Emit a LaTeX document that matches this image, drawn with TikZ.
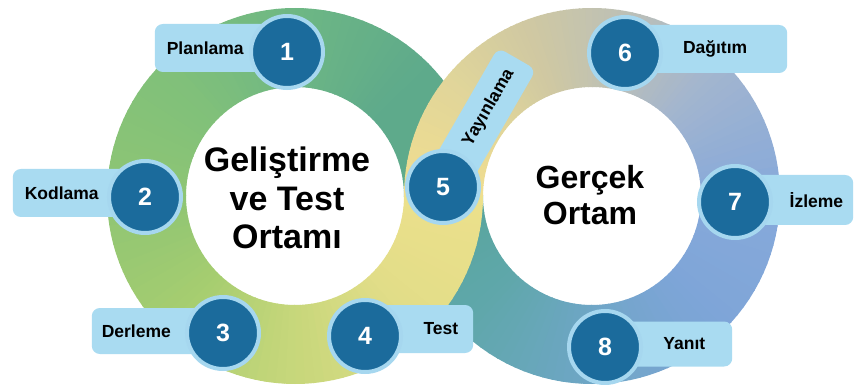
\documentclass[tikz,border=0pt]{standalone}
\usepackage{fontspec}
\setmainfont{Liberation Sans}
\usetikzlibrary{positioning}

% ring colours
\definecolor{lgYellow}{HTML}{ECE08C}
\definecolor{lgSand}{HTML}{E2DD88}
\definecolor{lgLime}{HTML}{C7D77B}
\definecolor{lgGreen}{HTML}{A6CD70}
\definecolor{lgLeaf}{HTML}{8EC574}
\definecolor{lgMoss}{HTML}{80C07A}
\definecolor{lgSea}{HTML}{6EB784}
\definecolor{lgTeal}{HTML}{5EAA8B}
\definecolor{rgYellow}{HTML}{F1DE8F}
\definecolor{rgCream}{HTML}{E0D59A}
\definecolor{rgBeige}{HTML}{CFC8A2}
\definecolor{rgGrey}{HTML}{BDC0B6}
\definecolor{rgSteel}{HTML}{A2B5CF}
\definecolor{rgBlue}{HTML}{87A9DA}
\definecolor{rgSky}{HTML}{7EA5D8}
\definecolor{rgDusk}{HTML}{6FA6C6}
\definecolor{rgLagoon}{HTML}{5FA7AA}
\definecolor{rgTeal}{HTML}{58A59C}
% step colours
\definecolor{stepblue}{HTML}{1B6B9C}
\definecolor{stepring}{HTML}{A6D7EF}
\definecolor{tagblue}{HTML}{A9DBF1}

\def\ringin{109}
\def\ringout{188}

% one gradient piece of a ring: centre, from angle, to angle, from colour, to colour
\newcommand\ringseg[5]{%
  \foreach \k in {0,...,14}{
    \pgfmathsetmacro\angA{#2+(#3-#2)*\k/15}
    \pgfmathsetmacro\angB{#2+(#3-#2)*(\k+1)/15+0.4}
    \pgfmathtruncatemacro\mixp{100*(\k+0.5)/15}
    \fill[#5!\mixp!#4, shift={(#1)}] (\angA:\ringin) -- (\angA:\ringout)
      arc[start angle=\angA, end angle=\angB, radius=\ringout] -- (\angB:\ringin)
      arc[start angle=\angB, end angle=\angA, radius=\ringin] -- cycle;
  }}

\tikzset{
  stepdot/.style={circle, fill=stepblue, draw=stepring, line width=4pt, minimum size=72pt,
    inner sep=0pt, text=white, font=\fontsize{25}{25}\selectfont\bfseries},
  tagbox/.style={fill=tagblue, rounded corners=8pt, minimum height=48pt, inner ysep=0pt,
    font=\fontsize{17.5}{18}\selectfont\bfseries},
  envtext/.style={align=center, font=\fontsize{34}{38.5}\selectfont\bfseries}
}

\begin{document}
\begin{tikzpicture}[x=1pt,y=-1pt]

  \useasboundingbox (0,0) rectangle (855,385);

  % ring centres
  \coordinate (L) at (295,196);
  \coordinate (R) at (592,196);

  % step positions
  \coordinate (c1) at (287,52);
  \coordinate (c2) at (145,197);
  \coordinate (c3) at (223,333);
  \coordinate (c4) at (365,336);
  \coordinate (c5) at (443,187);
  \coordinate (c6) at (625,53);
  \coordinate (c7) at (735,202);
  \coordinate (c8) at (605,347);

  % right ring, lower half (passes under)
  \ringseg{R}{0}{45}{rgBlue}{rgSky}
  \ringseg{R}{45}{90}{rgSky}{rgDusk}
  \ringseg{R}{90}{135}{rgDusk}{rgLagoon}
  \ringseg{R}{135}{180}{rgLagoon}{rgTeal}

  % left ring (teal end first so the yellow start sits on top)
  \ringseg{L}{315}{360}{lgTeal}{lgTeal}
  \ringseg{L}{0}{45}{lgYellow}{lgSand}
  \ringseg{L}{45}{90}{lgSand}{lgLime}
  \ringseg{L}{90}{135}{lgLime}{lgGreen}
  \ringseg{L}{135}{180}{lgGreen}{lgLeaf}
  \ringseg{L}{180}{225}{lgLeaf}{lgMoss}
  \ringseg{L}{225}{270}{lgMoss}{lgSea}
  \ringseg{L}{270}{315}{lgSea}{lgTeal}

  % right ring, upper half (passes over)
  \ringseg{R}{180}{220}{rgYellow}{rgCream}
  \ringseg{R}{220}{250}{rgCream}{rgBeige}
  \ringseg{R}{250}{280}{rgBeige}{rgGrey}
  \ringseg{R}{280}{315}{rgGrey}{rgSteel}
  \ringseg{R}{315}{360}{rgSteel}{rgBlue}

  % label tags
  \node[tagbox, anchor=east, text width=108pt, inner xsep=12pt, align=left] (l1) at (287,48) {Planlama};
  \node[tagbox, anchor=east, text width=108pt, inner xsep=12pt, align=left] (l2) at (145,193) {Kodlama};
  \node[tagbox, anchor=east, text width=111pt, inner xsep=10pt, align=left, minimum height=46pt] (l3) at (223,331) {Derleme};
  \node[tagbox, anchor=west, text width=78pt, inner xsep=15pt, align=right] (l4) at (365,329) {Test};
  \node[tagbox, anchor=west, rotate=60, text width=120pt, inner xsep=14pt, align=right, minimum height=44pt] (l5) at (c5) {Yayınlama};
  \node[tagbox, anchor=west, text width=82pt, inner xsep=40pt, align=right] (l6) at (625,49) {Dağıtım};
  \node[tagbox, anchor=west, text width=98pt, inner xsep=10pt, align=right, minimum height=50pt] (l7) at (735,200) {İzleme};
  \node[tagbox, anchor=west, text width=73pt, inner xsep=27pt, align=right, minimum height=45pt] (l8) at (605,344) {Yanıt};

  % numbered steps
  \foreach \i in {1,...,8}
    \node[stepdot] (s\i) at (c\i) {\i};

  % environment names
  \node[envtext] (dev) at (287,198) {Geliştirme\\ve Test\\Ortamı};
  \node[envtext, font=\fontsize{32}{36}\selectfont\bfseries] (prod) at (590,195) {Gerçek\\Ortam};

\end{tikzpicture}
\end{document}
